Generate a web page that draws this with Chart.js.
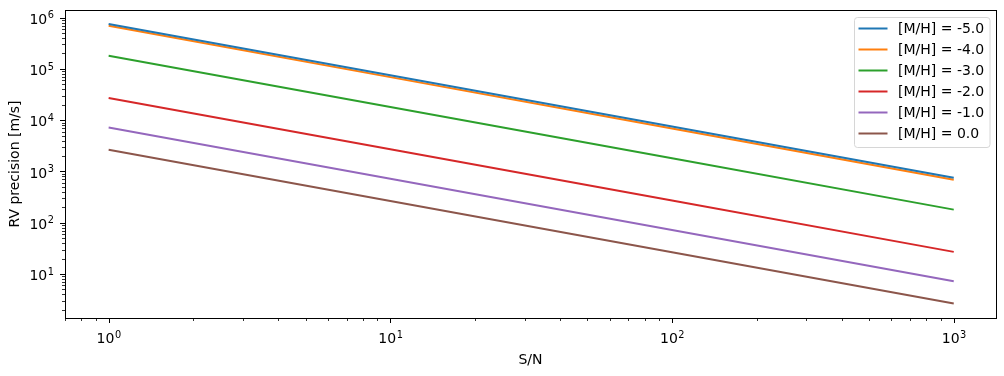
<!DOCTYPE html>
<html lang="en">
<head>
<meta charset="UTF-8">
<title>RV precision vs S/N</title>
<script src="https://cdn.jsdelivr.net/npm/chart.js"></script>
<style>
  body { margin: 0; background: #fff; }
  #wrap { width: 1004px; height: 376px; }
</style>
</head>
<body>
<div id="wrap"><canvas id="rvChart" width="1004" height="376"></canvas></div>
<script>
// values (S/N on x, RV precision in m/s on y)
var snr = [1, 10, 100, 1000];
var mhLabels = ['[M/H] = -5.0', '[M/H] = -4.0', '[M/H] = -3.0', '[M/H] = -2.0', '[M/H] = -1.0', '[M/H] = 0.0'];
var rvMh50 = [750000, 75000, 7500, 750];
var rvMh40 = [690000, 69000, 6900, 690];
var rvMh30 = [180000, 18000, 1800, 180];
var rvMh20 = [27000, 2700, 270, 27];
var rvMh10 = [7200, 720, 72, 7.2];
var rvMh00 = [2650, 265, 26.5, 2.65];
var yTickValues = [10, 100, 1000, 10000, 100000, 1000000];
var colors = ['#1f77b4', '#ff7f0e', '#2ca02c', '#d62728', '#9467bd', '#8c564b'];

var allSeries = [rvMh50, rvMh40, rvMh30, rvMh20, rvMh10, rvMh00];
var FONT = "'DejaVu Sans', sans-serif";

function decadeTicks(min, max) {
    var out = [];
    for (var k = Math.floor(Math.log10(min)) - 1; k <= Math.ceil(Math.log10(max)); k++) {
        for (var m = 1; m <= 9; m++) {
            var v = m * Math.pow(10, k);
            if (v >= min * 0.9999 && v <= max * 1.0001) out.push({ value: v, major: m === 1 });
        }
    }
    return out;
}

var datasets = allSeries.map(function (s, i) {
    return {
        label: mhLabels[i],
        data: snr.map(function (x, j) { return { x: x, y: s[j] }; }),
        borderColor: colors[i],
        backgroundColor: colors[i],
        borderWidth: 2,
        pointRadius: 0,
        fill: false,
        tension: 0
    };
});

// draws "10" with a raised exponent, like matplotlib's mathtext
function drawPow(ctx, value, x, baseY, anchor) {
    var e = String(Math.round(Math.log10(value)));
    ctx.font = '14px ' + FONT;
    var w1 = ctx.measureText('10').width;
    ctx.font = '9.8px ' + FONT;
    var w2 = ctx.measureText(e).width;
    var x0 = anchor === 'center' ? x - (w1 + w2) / 2 : x - (w1 + w2);
    ctx.textAlign = 'left';
    ctx.textBaseline = 'alphabetic';
    ctx.font = '14px ' + FONT;
    ctx.fillText('10', x0, baseY);
    ctx.font = '9.8px ' + FONT;
    ctx.fillText(e, x0 + w1 + 0.5, baseY - 5.6);
}

// frame, tick marks (major + minor), tick labels and a matplotlib-like legend
var axesPlugin = {
    id: 'axesPlugin',
    afterDraw: function (chart) {
        var ctx = chart.ctx, a = chart.chartArea;
        var xs = chart.scales.x, ys = chart.scales.y;
        ctx.save();
        ctx.strokeStyle = '#000';
        ctx.lineWidth = 1;
        ctx.strokeRect(Math.round(a.left) + 0.5, Math.round(a.top) + 0.5, Math.round(a.right - a.left), Math.round(a.bottom - a.top));

        decadeTicks(xs.min, xs.max).forEach(function (t) {
            var px = Math.round(xs.getPixelForValue(t.value)) + 0.5;
            var len = t.major ? 5 : 3;
            ctx.lineWidth = t.major ? 1 : 0.8;
            ctx.beginPath();
            ctx.moveTo(px, Math.round(a.bottom));
            ctx.lineTo(px, Math.round(a.bottom) + len);
            ctx.stroke();
        });
        decadeTicks(ys.min, ys.max).forEach(function (t) {
            var py = Math.round(ys.getPixelForValue(t.value)) + 0.5;
            var len = t.major ? 5 : 3;
            ctx.lineWidth = t.major ? 1 : 0.8;
            ctx.beginPath();
            ctx.moveTo(Math.round(a.left), py);
            ctx.lineTo(Math.round(a.left) - len, py);
            ctx.stroke();
        });

        ctx.fillStyle = '#000';
        snr.forEach(function (v) {
            drawPow(ctx, v, xs.getPixelForValue(v), a.bottom + 25.3, 'center');
        });
        yTickValues.forEach(function (v) {
            drawPow(ctx, v, a.left - 11.5, ys.getPixelForValue(v) + 6.3, 'right');
        });

        // legend box in the upper right corner
        var bw = 135.5, bh = 130, bx = a.right - 7 - bw, by = a.top + 7;
        ctx.fillStyle = 'rgba(255,255,255,0.8)';
        ctx.strokeStyle = '#d6d6d6';
        ctx.lineWidth = 1;
        ctx.beginPath();
        ctx.roundRect(Math.round(bx) + 0.5, Math.round(by) + 0.5, bw, bh, 3);
        ctx.fill();
        ctx.stroke();
        ctx.font = '14px ' + FONT;
        ctx.textBaseline = 'middle';
        ctx.textAlign = 'left';
        chart.data.datasets.forEach(function (ds, i) {
            var ry = by + 11.5 + i * 21;
            ctx.strokeStyle = ds.borderColor;
            ctx.lineWidth = 2;
            ctx.beginPath();
            ctx.moveTo(bx + 5, ry);
            ctx.lineTo(bx + 34, ry);
            ctx.stroke();
            ctx.fillStyle = '#000';
            ctx.fillText(ds.label, bx + 44.5, ry + 0.5);
        });
        ctx.restore();
    }
};

var ctx = document.getElementById('rvChart').getContext('2d');
var chart = new Chart(ctx, {
    type: 'line',
    data: { datasets: datasets },
    options: {
        responsive: false,
        animation: false,
        layout: { padding: { left: 0, right: 8, top: 10, bottom: 0 } },
        plugins: {
            legend: { display: false },
            tooltip: { enabled: false }
        },
        scales: {
            x: {
                type: 'logarithmic',
                position: 'bottom',
                min: Math.pow(10, -0.15),
                max: Math.pow(10, 3.15),
                grid: { display: false, drawTicks: false },
                border: { display: false },
                afterFit: function (scale) { scale.height = 58; },
                ticks: { display: false },
                title: {
                    display: true,
                    text: 'S/N',
                    color: '#000',
                    font: { family: FONT, size: 14 },
                    padding: { top: 0, bottom: 7 }
                }
            },
            y: {
                type: 'logarithmic',
                position: 'left',
                min: Math.pow(10, 0.142),
                max: Math.pow(10, 6.148),
                grid: { display: false, drawTicks: false },
                border: { display: false },
                afterFit: function (scale) { scale.width = 65; },
                ticks: { display: false },
                title: {
                    display: true,
                    text: 'RV precision [m/s]',
                    color: '#000',
                    font: { family: FONT, size: 14 },
                    padding: { top: 7, bottom: 0 }
                }
            }
        }
    },
    plugins: [axesPlugin]
});
</script>
</body>
</html>
